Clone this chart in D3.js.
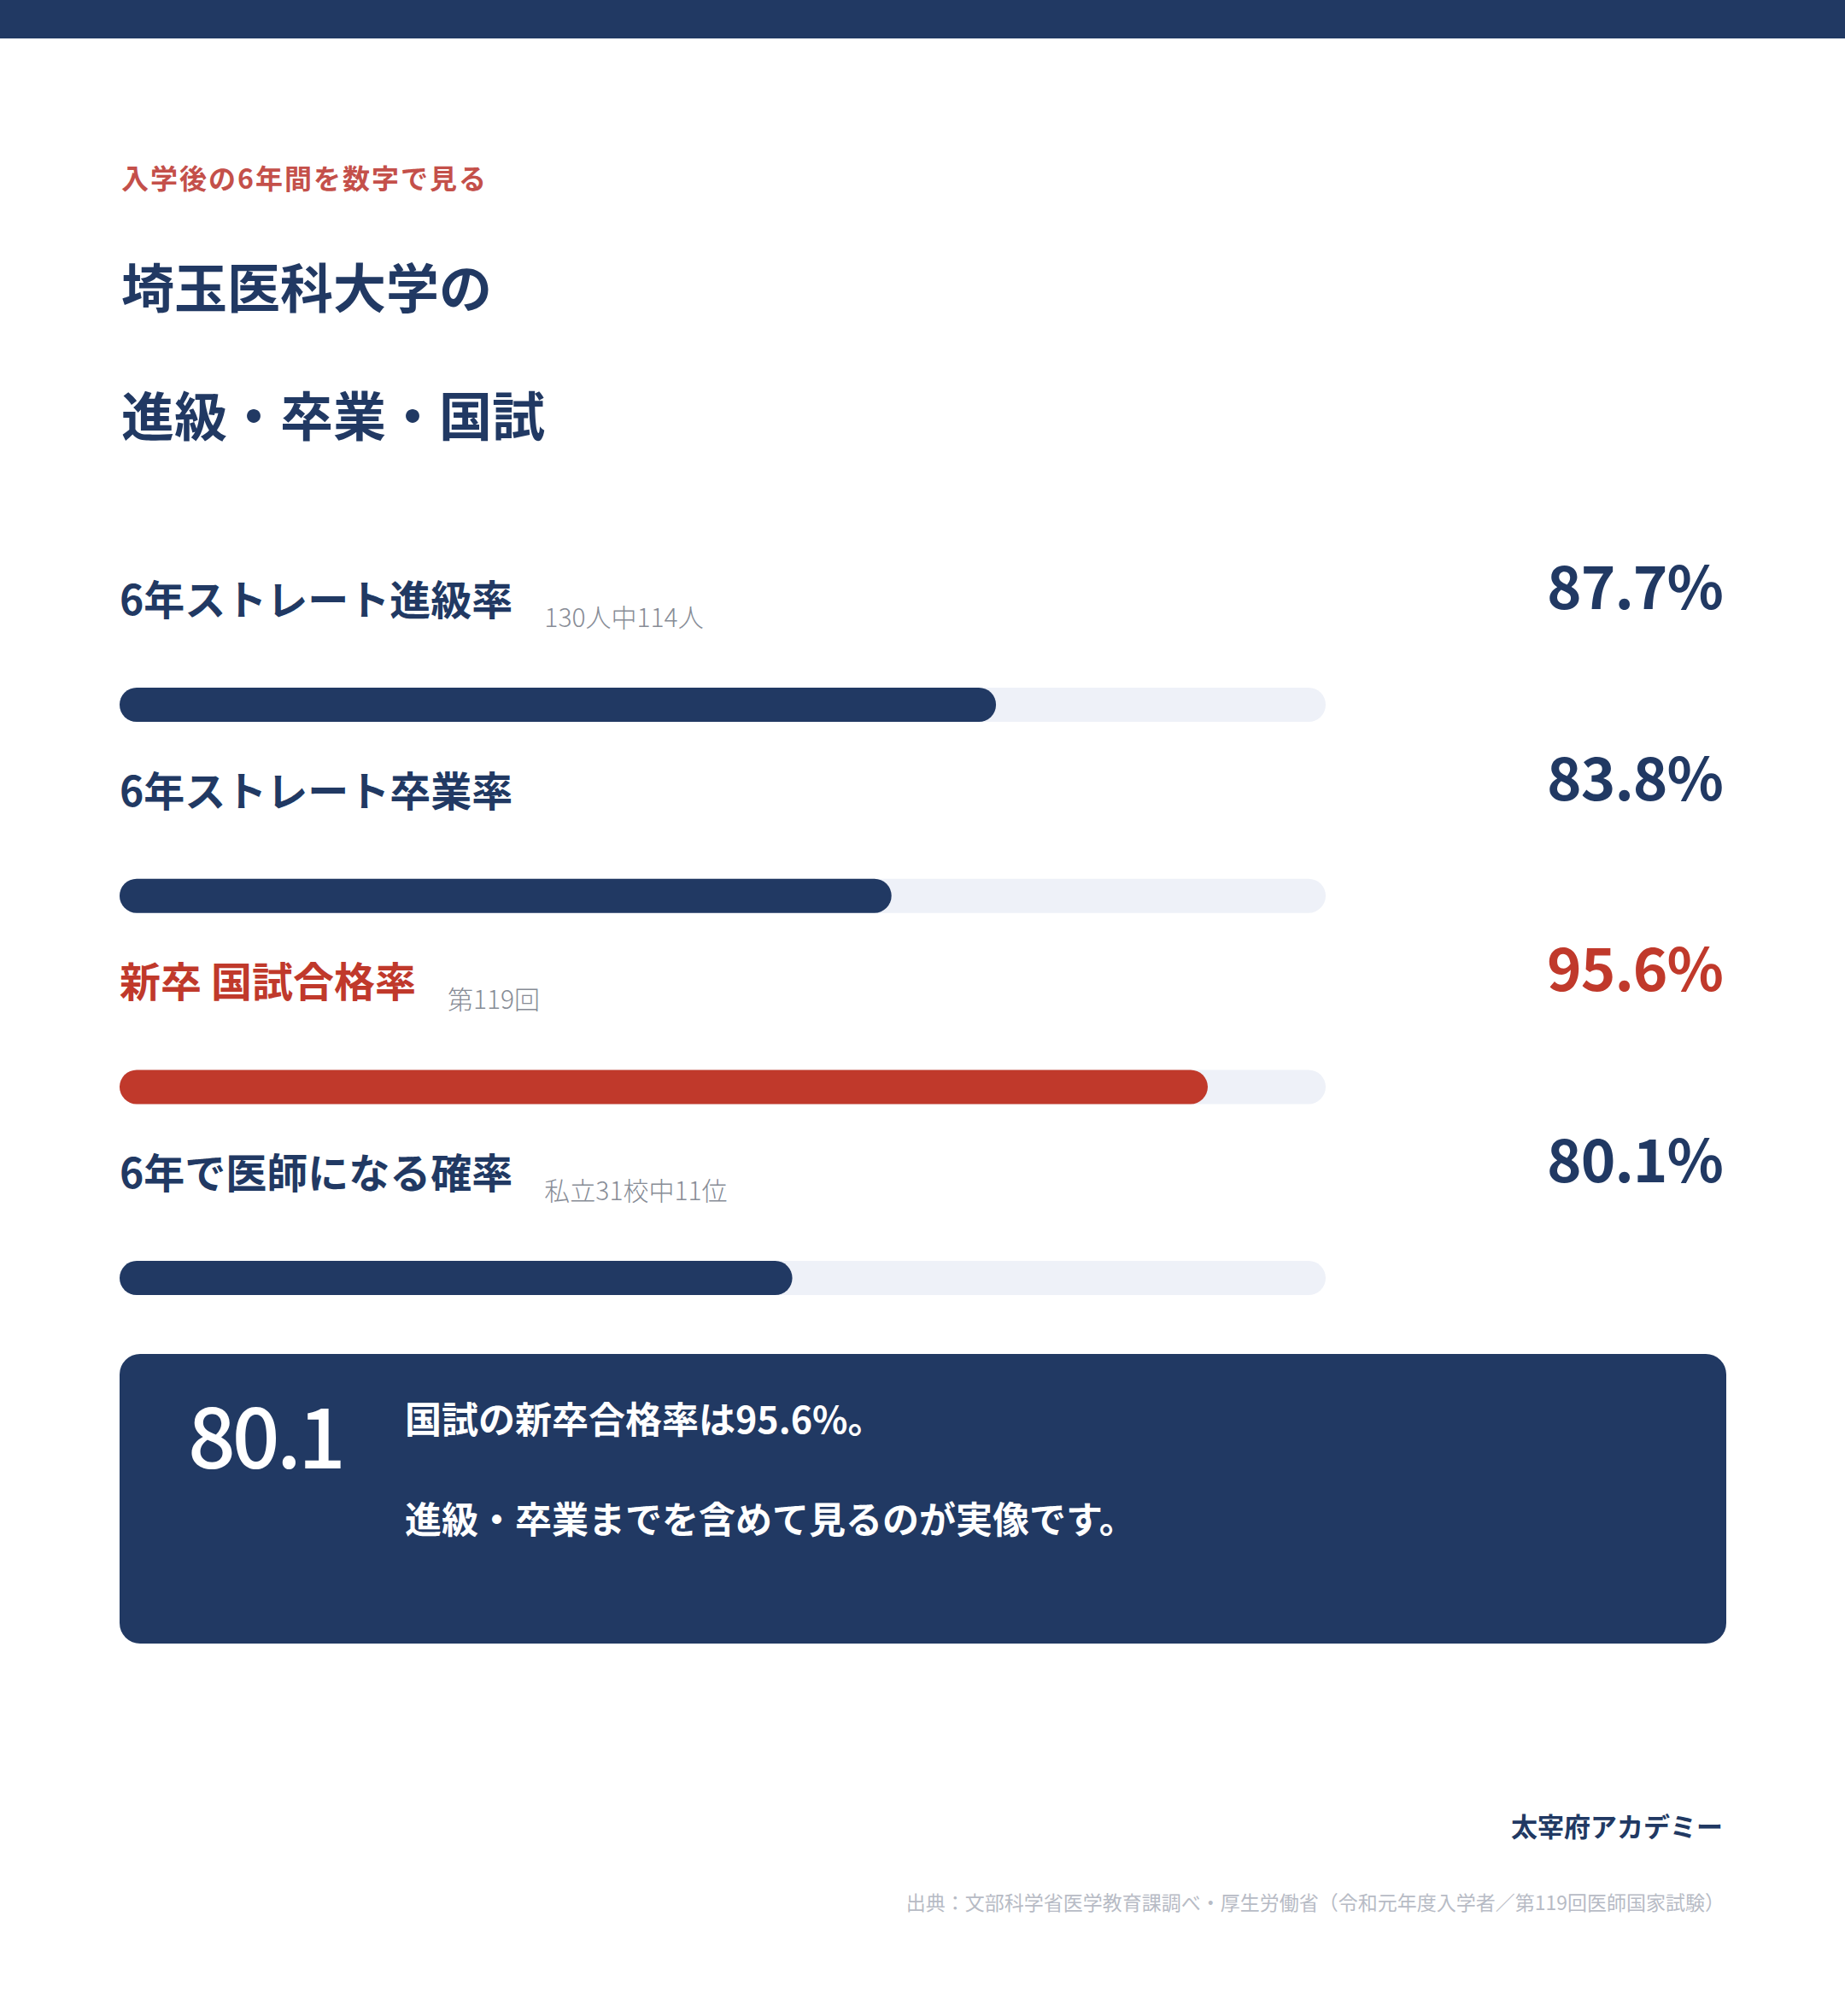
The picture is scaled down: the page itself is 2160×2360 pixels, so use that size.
<!DOCTYPE html>
<html>
<head>
<meta charset="utf-8">
<script src="https://cdn.jsdelivr.net/npm/d3@7"></script>
<style>
  html, body { margin: 0; padding: 0; background: #fff; }
  svg { display: block; }
  text { font-family: "Noto Sans CJK JP", "Noto Sans", sans-serif; }
</style>
</head>
<body>
<script>
// Chart data
const labels = ["6年ストレート進級率", "6年ストレート卒業率", "新卒 国試合格率", "6年で医師になる確率"];
const values = [87.7, 83.8, 95.6, 80.1];
const notes = ["130人中114人", "", "第119回", "私立31校中11位"];
const highlight = [false, false, true, false];

const kicker = "入学後の6年間を数字で見る";
const titleLines = ["埼玉医科大学の", "進級・卒業・国試"];
const calloutNumber = "80.1";
const calloutLines = ["国試の新卒合格率は95.6%。", "進級・卒業までを含めて見るのが実像です。"];
const brand = "太宰府アカデミー";
const source = "出典：文部科学省医学教育課調べ・厚生労働省（令和元年度入学者／第119回医師国家試験）";

// Setup variables
const width = 2160;
const height = 2360;
const left = 140;
const right = 2017;
const navy = "#213963";
const red = "#c0392b";

const svg = d3.select("body")
  .append("svg")
  .attr("width", width)
  .attr("height", height);

// Top band
svg.append("rect")
  .attr("x", 0).attr("y", 0)
  .attr("width", width).attr("height", 45)
  .attr("fill", navy);

// Heading
svg.append("text")
  .attr("x", 142).attr("y", 221)
  .attr("fill", "#c4504a")
  .attr("font-size", 32)
  .attr("font-weight", 700)
  .attr("letter-spacing", 2)
  .text(kicker);

svg.selectAll(".title")
  .data(titleLines)
  .join("text")
  .attr("class", "title")
  .attr("x", 142)
  .attr("y", (d, i) => 361 + i * 150)
  .attr("fill", navy)
  .attr("font-size", 62)
  .attr("font-weight", 700)
  .text(d => d);

// Scales: bars start at 55% on the left edge of the track
const x = d3.scaleLinear().domain([55, 100]).range([left, 1552]);
const y = d3.scaleBand().domain(d3.range(labels.length)).range([582, 582 + 4 * 223.7]);
const barH = 40;

const rows = svg.selectAll(".row")
  .data(labels)
  .join("g")
  .attr("class", "row")
  .attr("transform", (d, i) => `translate(0, ${y(i)})`);

rows.append("text")
  .attr("class", "label")
  .attr("x", left)
  .attr("y", 138)
  .attr("fill", (d, i) => highlight[i] ? red : navy)
  .attr("font-size", 48)
  .attr("font-weight", 700)
  .text(d => d);

rows.append("text")
  .attr("x", function(d, i) {
    const lab = this.parentNode.querySelector(".label");
    return left + lab.getComputedTextLength() + 37;
  })
  .attr("y", 152)
  .attr("fill", "#878c96")
  .attr("font-size", 30)
  .attr("font-weight", 300)
  .text((d, i) => notes[i]);

rows.append("text")
  .attr("x", right)
  .attr("y", 131)
  .attr("text-anchor", "end")
  .attr("fill", (d, i) => highlight[i] ? red : navy)
  .attr("font-size", 69)
  .attr("font-weight", 700)
  .attr("letter-spacing", -1)
  .text((d, i) => values[i].toFixed(1) + "%");

rows.append("rect")
  .attr("x", x(55))
  .attr("y", 223)
  .attr("width", x(100) - x(55))
  .attr("height", barH)
  .attr("rx", barH / 2)
  .attr("fill", "#eef1f8");

rows.append("rect")
  .attr("x", x(55))
  .attr("y", 223)
  .attr("width", (d, i) => x(values[i]) - x(55))
  .attr("height", barH)
  .attr("rx", barH / 2)
  .attr("fill", (d, i) => highlight[i] ? red : navy);

// Callout box
svg.append("rect")
  .attr("x", left).attr("y", 1585)
  .attr("width", 2021 - left).attr("height", 339)
  .attr("rx", 24)
  .attr("fill", navy);

svg.append("text")
  .attr("x", 220).attr("y", 1719)
  .attr("fill", "#fff")
  .attr("font-size", 98)
  .attr("font-weight", 500)
  .attr("letter-spacing", -4)
  .text(calloutNumber);

svg.selectAll(".callout")
  .data(calloutLines)
  .join("text")
  .attr("class", "callout")
  .attr("x", 474)
  .attr("y", (d, i) => 1678 + i * 117)
  .attr("fill", "#fff")
  .attr("font-size", 43)
  .attr("font-weight", 700)
  .text(d => d);

// Footer
svg.append("text")
  .attr("x", right).attr("y", 2150)
  .attr("text-anchor", "end")
  .attr("fill", navy)
  .attr("font-size", 31)
  .attr("font-weight", 700)
  .text(brand);

svg.append("text")
  .attr("x", 2019).attr("y", 2236)
  .attr("text-anchor", "end")
  .attr("fill", "#b7bbc5")
  .attr("font-size", 23)
  .attr("font-weight", 400)
  .text(source);
</script>
</body>
</html>
